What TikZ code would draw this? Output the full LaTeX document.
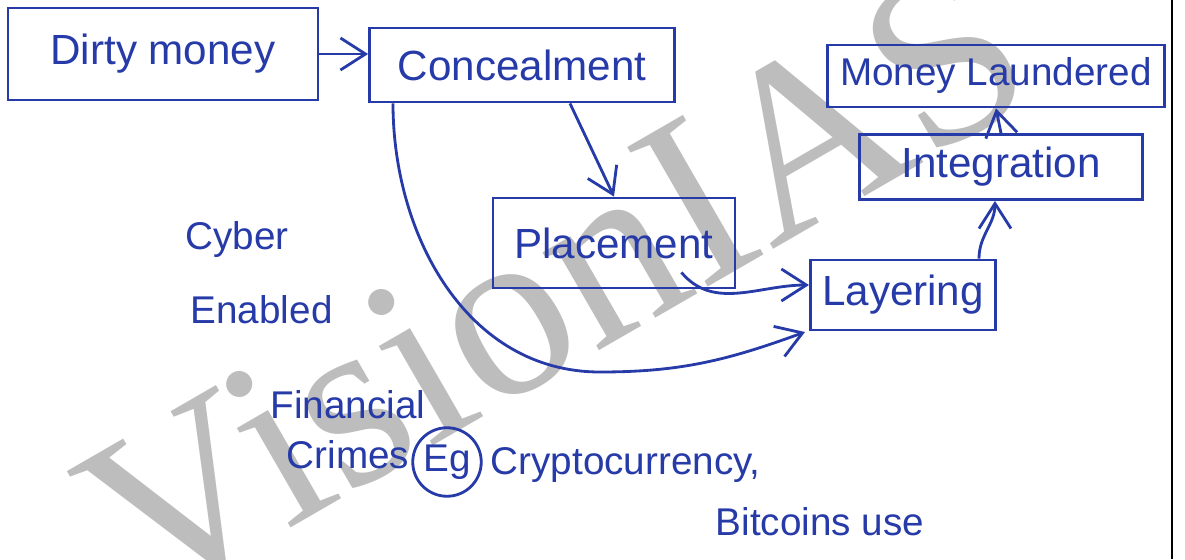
\documentclass[tikz,border=0pt]{standalone}
\usepackage{fontspec}
\setmainfont{Liberation Sans}
\newfontfamily\wmfont{Liberation Serif}
\usetikzlibrary{positioning,arrows.meta}
\definecolor{ink}{RGB}{38,58,168}
\begin{document}
\begin{tikzpicture}[
  box/.style={rectangle, draw=ink, thick, text=ink, font=\fontsize{12}{14}\selectfont},
  note/.style={text=ink, anchor=west, inner sep=0pt, font=\fontsize{11}{13}\selectfont},
  flow/.style={->, draw=ink, thick},
  >={Straight Barb[length=2.5mm,width=3.2mm]}
]
\useasboundingbox (0,0) rectangle (11.85,5.59);

% watermark
\node[rotate=30, text=black!26, font=\wmfont\fontsize{70}{72}\selectfont] (wm) at (5.55,2.75) {VisionIAS};

% the stages
\node[box, minimum width=3.1cm, minimum height=0.92cm] (dirty) at (1.63,5.05) {Dirty money};
\node[box, minimum width=3.05cm, minimum height=0.74cm] (conceal) at (5.22,4.94) {Concealment};
\node[box, minimum width=3.37cm, minimum height=0.62cm, font=\fontsize{11}{13}\selectfont] (laundered) at (9.96,4.83) {Money Laundered};
\node[box, minimum width=2.83cm, minimum height=0.65cm] (integr) at (10.01,3.92) {Integration};
\node[box, minimum width=2.42cm, minimum height=0.9cm] (place) at (6.14,3.16) {Placement};
\node[box, minimum width=1.63cm, minimum height=0.7cm] (layer) at (9.03,2.64) {Layering};

\coordinate (skip) at (8.05,2.27);

\draw[flow] (dirty.east) -- (dirty.east -| conceal.west);
\draw[flow] ([xshift=0.48cm]conceal.south) -- (place.north);
\draw[flow] ([xshift=-1.29cm]conceal.south) to[out=-90,in=180] (6.0,1.87) to[out=0,in=200] (skip);
\draw[flow] ([xshift=-0.55cm,yshift=0.17cm]place.south east) to[out=-50,in=180] ([yshift=0.1cm]layer.west);
\draw[flow] ([xshift=-0.18cm]layer.north east) to[out=90,in=-90] ([xshift=-0.06cm]integr.south);
\draw[flow] (integr.north) -- (laundered.south);

% side notes
\node[note] (cyber) at (1.85,3.19) {Cyber};
\node[note] (enabled) at (1.90,2.49) {Enabled};
\node[note] (financial) at (2.70,1.54) {Financial};
\node[note] (crimes) at (2.86,1.04) {Crimes};
\node[circle, draw=ink, thick, text=ink, inner sep=1pt, minimum size=0.62cm, font=\fontsize{11}{13}\selectfont] (eg) at (4.47,0.97) {Eg};
\node[note] (crypto) at (4.90,0.94) {Cryptocurrency,};
\node[note] (bitcoin) at (7.15,0.37) {Bitcoins use};

% page margin
\draw[thick] (11.72,0) -- (11.72,5.59);
\end{tikzpicture}
\end{document}
